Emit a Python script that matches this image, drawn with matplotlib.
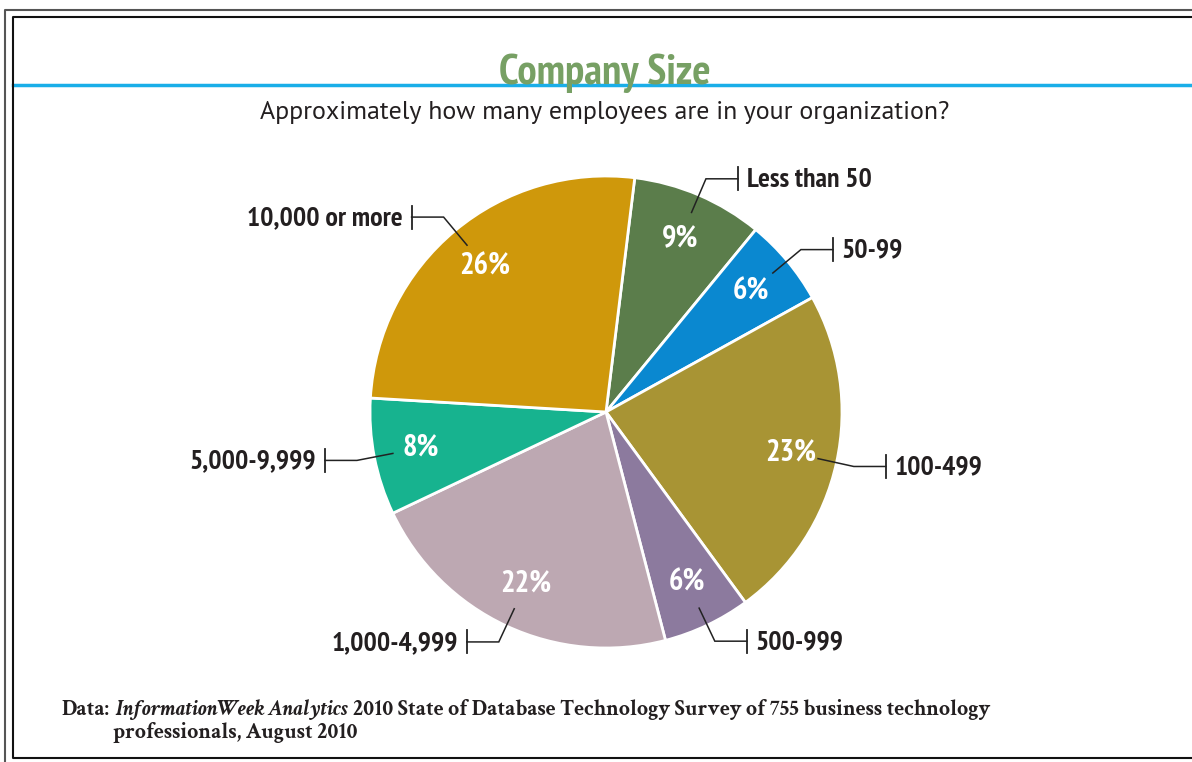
import matplotlib
matplotlib.use('Agg')
import matplotlib.pyplot as plt
import numpy as np

# Survey answers, clockwise from the top
categories = ['Less than 50', '50-99', '100-499', '500-999',
              '1,000-4,999', '5,000-9,999', '10,000 or more']
shares = [9, 6, 23, 6, 22, 8, 26]
colors = ['#5b7d4b', '#0a88d0', '#a89434', '#8c7a9e',
          '#bda8b2', '#17b38f', '#cf980b']

NARROW = ['PT Sans Narrow', 'Open Sans Condensed', 'DejaVu Sans']
SANS = ['PT Sans', 'Open Sans', 'DejaVu Sans']
SERIF = ['Crimson Text', 'Liberation Serif']

W, H = 1192, 762
fig = plt.figure(figsize=(W / 100, H / 100), dpi=100)
ax = fig.add_axes([0, 0, 1, 1])

cx, cy, R = 606, 412, 236
# the y axis runs downward (pixel layout), so a counter-clockwise pie
# in data space comes out clockwise on screen
wedges, _, pcts = ax.pie(
    shares, colors=colors, center=(cx, cy), radius=R,
    startangle=-83, counterclock=True,
    autopct='%.0f%%', pctdistance=0.80,
    wedgeprops=dict(edgecolor='white', linewidth=2),
    textprops=dict(color='white', fontsize=22, fontweight='bold',
                   family=NARROW))

ax.set_xlim(0, W)
ax.set_ylim(H, 0)
ax.set_aspect('equal')
ax.axis('off')

# leader lines: radial stub, horizontal run, end tick, then the label
for w, name in zip(wedges, categories):
    th = np.deg2rad((w.theta1 + w.theta2) / 2)
    c, s = np.cos(th), np.sin(th)
    x0, y0 = cx + 0.92 * R * c, cy + 0.92 * R * s
    x1, y1 = cx + 1.075 * R * c, cy + 1.075 * R * s
    side = 1 if c >= 0 else -1
    x2 = x1 + side * 32
    ax.plot([x0, x1, x2], [y0, y1, y1], color='#222222', lw=1.1,
            solid_joinstyle='miter')
    ax.plot([x2, x2], [y1 - 11.5, y1 + 11.5], color='#222222', lw=1.3)
    ax.text(x2 + side * 9, y1 + 1, name, ha='left' if side > 0 else 'right',
            va='center', fontsize=20, fontweight='bold', color='#231f20',
            family=NARROW)

# frame
ax.plot([5, 5, W], [H, 10, 10], color='#555555', lw=1.5, clip_on=False)
ax.plot([W, 13, 13, W], [17, 17, 758, 758], color='#111111', lw=1.5,
        clip_on=False)

# title band
ax.plot([13, W], [85, 85], color='#1aaee8', lw=2.5, zorder=1)
ax.text(605, 84, 'Company Size', ha='center', va='baseline',
        color='#77a064', fontsize=31, fontweight='bold', family=NARROW,
        zorder=2)
ax.text(605, 112, 'Approximately how many employees are in your organization?',
        ha='center', va='center', color='#231f20', fontsize=18.6,
        fontweight='normal', family=SANS)

# source note, mixed roman / italic
renderer = fig.canvas.get_renderer()
x = 62
pieces = [('Data:', 'normal', 5),
          ('InformationWeek Analytics', 'italic', 5),
          ('2010 State of Database Technology Survey of 755 business technology',
           'normal', 0)]
for txt, style, gap in pieces:
    t = ax.text(x, 710, txt, ha='left', va='center', fontsize=15.7,
                fontweight='bold', fontstyle=style, family=SERIF,
                color='#231f20')
    x += t.get_window_extent(renderer).width + gap
ax.text(113, 732, 'professionals, August 2010', ha='left', va='center',
        fontsize=15.7, fontweight='bold', family=SERIF, color='#231f20')

fig.savefig('out.png', dpi=100)
